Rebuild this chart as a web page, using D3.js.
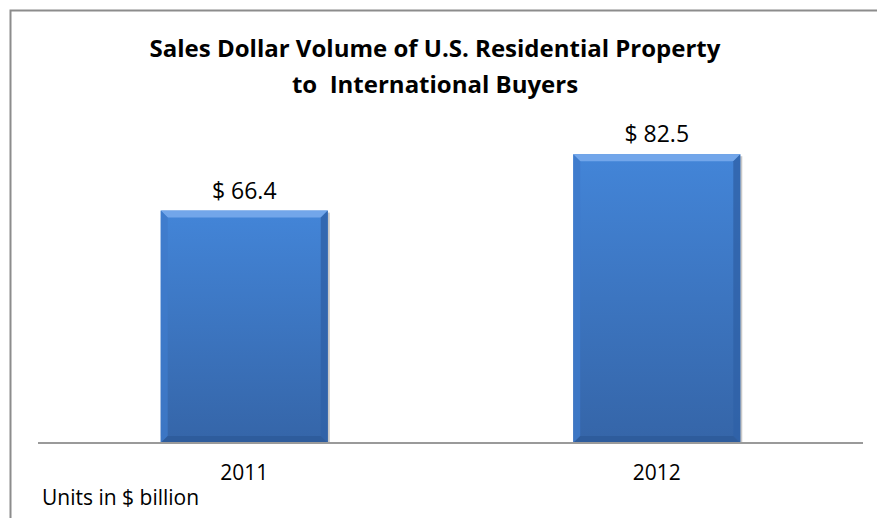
<!DOCTYPE html>
<html>
<head>
<meta charset="utf-8">
<script src="https://cdn.jsdelivr.net/npm/d3@7"></script>
<style>
  body { margin: 0; background: #fff; }
  text { font-family: "Open Sans", sans-serif; fill: #000; }
</style>
</head>
<body>
<svg id="grafico" width="877" height="518"></svg>
<script>
const years = ["2011", "2012"];
const volumes = [66.4, 82.5];
const titleLines = ["Sales Dollar Volume of U.S. Residential Property", "to  International Buyers"];
const unitsNote = "Units in $ billion";

const svg = d3.select("#grafico");
const width = +svg.attr("width");
const height = +svg.attr("height");

// chart frame (only top and left edges are visible in the original)
svg.append("path")
  .attr("d", `M10.5,${height} V10.5 H${width}`)
  .attr("fill", "none")
  .attr("stroke", "#8c8c8c")
  .attr("stroke-width", 2);

const x = d3.scaleBand()
  .domain(years)
  .range([38, 863])
  .paddingInner(0.595)
  .paddingOuter(0.2975);

const y = d3.scaleLinear()
  .domain([0, 90])
  .range([443, 128]);

const defs = svg.append("defs");
const grad = defs.append("linearGradient")
  .attr("id", "body")
  .attr("x1", 0).attr("y1", 0).attr("x2", 0).attr("y2", 1);
grad.append("stop").attr("offset", "0%").attr("stop-color", "#4385d8");
grad.append("stop").attr("offset", "100%").attr("stop-color", "#3565a8");

const data = years.map((yr, i) => ({ year: yr, value: volumes[i] }));
const b = 7; // bevel size

const bars = svg.selectAll("g.bar")
  .data(data)
  .join("g")
  .attr("class", "bar");

// soft shadow on the right
bars.append("rect")
  .attr("x", d => x(d.year) + 2)
  .attr("y", d => y(d.value) + 2)
  .attr("width", x.bandwidth())
  .attr("height", d => y(0) - y(d.value) - 2)
  .attr("fill", "#c8c8c8");

bars.append("rect")
  .attr("x", d => x(d.year))
  .attr("y", d => y(d.value))
  .attr("width", x.bandwidth())
  .attr("height", d => y(0) - y(d.value))
  .attr("fill", "url(#body)");

// bevel edges
const bevel = (d, side) => {
  const x0 = x(d.year), x1 = x0 + x.bandwidth();
  const y0 = y(d.value), y1 = y(0);
  if (side === "top") return `M${x0},${y0} L${x1},${y0} L${x1 - b},${y0 + b} L${x0 + b},${y0 + b} Z`;
  if (side === "left") return `M${x0},${y0} L${x0 + b},${y0 + b} L${x0 + b},${y1 - b} L${x0},${y1} Z`;
  if (side === "right") return `M${x1},${y0} L${x1 - b},${y0 + b} L${x1 - b},${y1 - b} L${x1},${y1} Z`;
  return `M${x0},${y1} L${x0 + b},${y1 - b} L${x1 - b},${y1 - b} L${x1},${y1} Z`;
};

bars.append("path").attr("d", d => bevel(d, "top")).attr("fill", "#72a6ea");
bars.append("path").attr("d", d => bevel(d, "left")).attr("fill", "#3f7acb").attr("opacity", 0.8);
bars.append("path").attr("d", d => bevel(d, "right")).attr("fill", "#2f62a8").attr("opacity", 0.8);
bars.append("path").attr("d", d => bevel(d, "bottom")).attr("fill", "#2d5a98").attr("opacity", 0.8);

// value labels
bars.append("text")
  .attr("x", d => x(d.year) + x.bandwidth() / 2)
  .attr("y", d => y(d.value) - 12)
  .attr("text-anchor", "middle")
  .attr("font-size", 23)
  .text(d => "$ " + d.value.toFixed(1));

// x axis
const xAxis = svg.append("g")
  .attr("transform", `translate(0,${y(0)})`)
  .call(d3.axisBottom(x).tickSize(0).tickPadding(22));
xAxis.select(".domain").attr("stroke", "#9a9a9a").attr("stroke-width", 2).attr("d", "M38,0H863");
xAxis.selectAll("text")
  .attr("font-size", 21)
  .style("font-family", "'Open Sans', sans-serif");

// title
svg.append("text")
  .attr("x", 435)
  .attr("y", 57)
  .attr("text-anchor", "middle")
  .attr("font-size", 24)
  .attr("font-weight", "bold")
  .selectAll("tspan")
  .data(titleLines)
  .join("tspan")
  .attr("x", 435)
  .attr("dy", (_, i) => i === 0 ? 0 : 36)
  .attr("xml:space", "preserve")
  .style("white-space", "pre")
  .text(d => d);

svg.append("text")
  .attr("x", 42)
  .attr("y", 505)
  .attr("font-size", 21)
  .text(unitsNote);
</script>
</body>
</html>
